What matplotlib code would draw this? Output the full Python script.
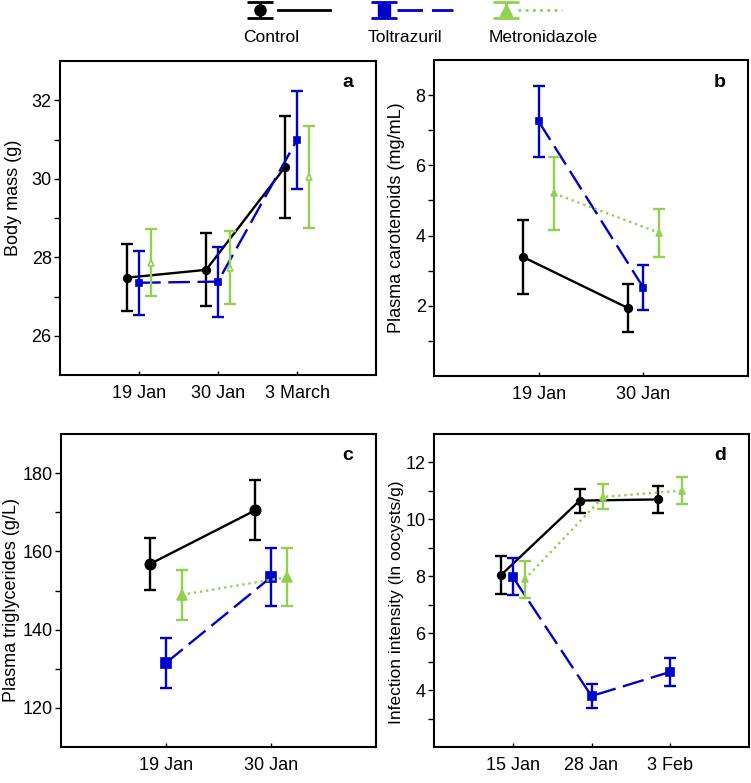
import numpy as np
import matplotlib.pyplot as plt

plt.rcParams['font.family'] = ['Liberation Sans', 'DejaVu Sans']

# --- data (mean, +/- error) ---
groups = ['Control', 'Toltrazuril', 'Metronidazole']
colors = ['black', '#0000cc', '#92d050']

# a: body mass
a_dates = ['19 Jan', '30 Jan', '3 March']
a_ctrl = [27.48, 27.68, 30.30]
a_ctrl_err = [0.85, 0.93, 1.30]
a_tolt = [27.35, 27.38, 30.99]
a_tolt_err = [0.82, 0.89, 1.25]
a_metr = [27.86, 27.73, 30.05]
a_metr_err = [0.85, 0.93, 1.30]

# b: plasma carotenoids
b_dates = ['19 Jan', '30 Jan']
b_ctrl = [3.39, 1.94]
b_ctrl_err = [1.05, 0.68]
b_tolt = [7.25, 2.52]
b_tolt_err = [1.00, 0.65]
b_metr = [5.20, 4.08]
b_metr_err = [1.04, 0.68]

# c: plasma triglycerides
c_dates = ['19 Jan', '30 Jan']
c_ctrl = [156.8, 170.5]
c_ctrl_err = [6.7, 7.7]
c_tolt = [131.5, 153.4]
c_tolt_err = [6.4, 7.4]
c_metr = [148.9, 153.4]
c_metr_err = [6.4, 7.4]

# d: infection intensity
d_dates = ['15 Jan', '28 Jan', '3 Feb']
d_ctrl = [8.04, 10.66, 10.70]
d_ctrl_err = [0.67, 0.42, 0.49]
d_tolt = [7.98, 3.79, 4.64]
d_tolt_err = [0.65, 0.42, 0.48]
d_metr = [7.89, 10.79, 11.01]
d_metr_err = [0.64, 0.44, 0.48]

offsets = [-0.15, 0.0, 0.15]
line_styles = ['-', (0, (9.2, 3.2)), (0, (1, 1.6))]
markers = ['o', 's', '^']

W, H = 751, 783
fig = plt.figure(figsize=(W / 100, H / 100), dpi=100)


def px_axes(left, top, right, bottom):
    return fig.add_axes([left / W, (H - bottom) / H, (right - left) / W, (bottom - top) / H])


def panel(ax, dates, series, errs, ylim, majors, minors, ylabel, letter,
          msize, lab_xy, green_line=True, green_open=False, lab_fs=13):
    x = np.arange(1, len(dates) + 1)
    for i in range(3):
        xi = x + offsets[i]
        mfc = colors[i]
        ms = msize[i]
        if i == 2 and green_open:
            mfc = 'white'
        ax.errorbar(xi, series[i], yerr=errs[i], fmt='none', ecolor=colors[i],
                    elinewidth=1.7, capsize=4.5, capthick=1.7, zorder=2 + i)
        if i != 2 or green_line:
            ax.plot(xi, series[i], color=colors[i], lw=1.7, ls=line_styles[i], zorder=2 + i)
        ax.plot(xi, series[i], ls='none', marker=markers[i], ms=ms, mfc=mfc,
                mec=colors[i], mew=1.2, zorder=3 + i)
    ax.set_xlim(0, len(dates) + 1)
    ax.set_ylim(*ylim)
    ax.set_xticks(x)
    ax.set_xticklabels(dates, fontsize=13)
    ax.set_yticks(majors)
    ax.set_yticklabels([str(v) for v in majors], fontsize=13)
    ax.set_yticks(minors, minor=True)
    ax.tick_params(axis='x', direction='in', length=3, width=1, pad=7)
    ax.tick_params(axis='y', which='both', direction='out', length=4, width=1, pad=2)
    for s in ax.spines.values():
        s.set_linewidth(1.5)
    ax.set_ylabel(ylabel, fontsize=lab_fs, va='center', ha='center')
    ax.yaxis.set_label_coords(*lab_xy)
    ax.text(0.91, 0.93, letter, transform=ax.transAxes, fontsize=14,
            fontweight='bold', ha='center', va='center')


ax_a = px_axes(60, 61, 376, 375)
panel(ax_a, a_dates, [a_ctrl, a_tolt, a_metr], [a_ctrl_err, a_tolt_err, a_metr_err],
      (25, 33), [26, 28, 30, 32], [27, 29, 31], 'Body mass (g)', 'a',
      [5.5, 5, 5], (-0.146, 0.565), green_line=False, green_open=True)

ax_b = px_axes(434, 60, 748, 376)
panel(ax_b, b_dates, [b_ctrl, b_tolt, b_metr], [b_ctrl_err, b_tolt_err, b_metr_err],
      (0, 9), [2, 4, 6, 8], [1, 3, 5, 7], 'Plasma carotenoids (mg/mL)', 'b',
      [5.5, 5, 5], (-0.118, 0.5))

ax_c = px_axes(61, 434, 376, 747)
panel(ax_c, c_dates, [c_ctrl, c_tolt, c_metr], [c_ctrl_err, c_tolt_err, c_metr_err],
      (110, 190), [120, 140, 160, 180], [130, 150, 170], 'Plasma triglycerides (g/L)', 'c',
      [7.5, 7, 7.5], (-0.158, 0.47))

ax_d = px_axes(434, 434, 749, 747)
panel(ax_d, d_dates, [d_ctrl, d_tolt, d_metr], [d_ctrl_err, d_tolt_err, d_metr_err],
      (2, 13), [4, 6, 8, 10, 12], [3, 5, 7, 9, 11], 'Infection intensity (ln oocysts/g)', 'd',
      [5.5, 5.5, 5], (-0.118, 0.464), lab_fs=12.5)

# --- legend drawn at the top ---
leg = fig.add_axes([0, 0, 1, 1])
leg.set_xlim(0, W)
leg.set_ylim(H, 0)
leg.axis('off')
leg_marker_x = [260, 384, 506]
leg_line = [(278, 330), (397, 453), (518, 562)]
leg_text_x = [271, 405, 543]
for i in range(3):
    leg.errorbar([leg_marker_x[i]], [10], yerr=8, fmt='none', ecolor=colors[i],
                 elinewidth=2, capsize=9.5, capthick=2)
    leg.plot([leg_marker_x[i]], [10], marker=markers[i], ms=8, color=colors[i], ls='none')
    leg.plot(leg_line[i], [10, 10], color=colors[i], lw=2, ls=line_styles[i])
    leg.text(leg_text_x[i], 37, groups[i], fontsize=12.5, ha='center', va='center')

fig.savefig('out.png', dpi=100)
